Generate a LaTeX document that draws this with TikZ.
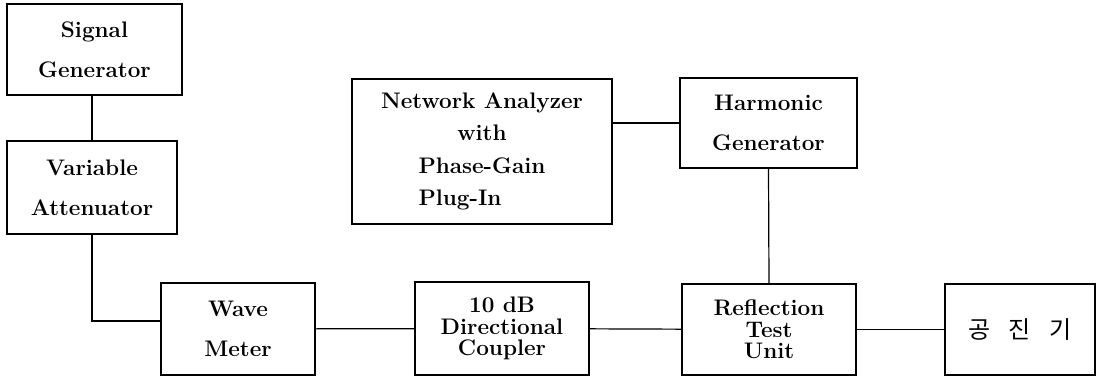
\documentclass[tikz,border=0pt]{standalone}
\usepackage{fontspec}
\usepackage{calc}
\newfontfamily\kofont{Noto Sans CJK KR}

\begin{document}
\begin{tikzpicture}[x=1pt, y=-1pt, line width=1.2pt,
    box/.style={draw, inner sep=0pt, align=center,
        font=\bfseries\fontsize{22.5}{40}\selectfont},
    tight/.style={font=\bfseries\fontsize{22.5}{21.5}\selectfont}]
    \useasboundingbox (0,0) rectangle (1106,379);

    % left column
    \node[box, minimum width=175pt, minimum height=91pt] (siggen) at (94.5,49.5) {Signal\\Generator};
    \node[box, minimum width=170pt, minimum height=93pt] (varatt) at (92,187.5) {Variable\\Attenuator};

    % bottom row
    \node[box, minimum width=154pt, minimum height=92pt] (wavem) at (238,329) {Wave\\Meter};
    \node[box, tight, minimum width=174pt, minimum height=93pt] (coupler) at (502,328.5) {10 dB\\Directional\\Coupler};
    \node[box, tight, minimum width=174pt, minimum height=91pt] (rtu) at (769,329.5) {Reflection\\Test\\Unit};
    \node[box, minimum width=150pt, minimum height=91pt] (reson) at (1020,329.5)
        {\normalfont\kofont\fontsize{24}{28}\selectfont\raisebox{-5pt}{공\hspace{0.75em}진\hspace{0.75em}기}};

    % analyzer and harmonic generator
    \node[box, font=\bfseries\fontsize{22.5}{32.5}\selectfont, minimum width=260pt, minimum height=145pt] (netan) at (482,151.5)
        {Network Analyzer\\with\\Phase-Gain\\\makebox[\widthof{Phase-Gain}][l]{Plug-In}};
    \node[box, minimum width=177pt, minimum height=90pt] (harmgen) at (768.5,123) {Harmonic\\Generator};

    \draw (varatt.north) -- (varatt.north |- siggen.south);
    \draw (varatt.south) |- ([yshift=8pt]wavem.west);
    \draw (wavem) -- (coupler);
    \draw (coupler) -- (rtu);
    \draw (rtu) -- (reson);
    \draw (harmgen.west) -- (harmgen.west -| netan.east);
    \draw (harmgen.south) -- (rtu.north);
\end{tikzpicture}
\end{document}
